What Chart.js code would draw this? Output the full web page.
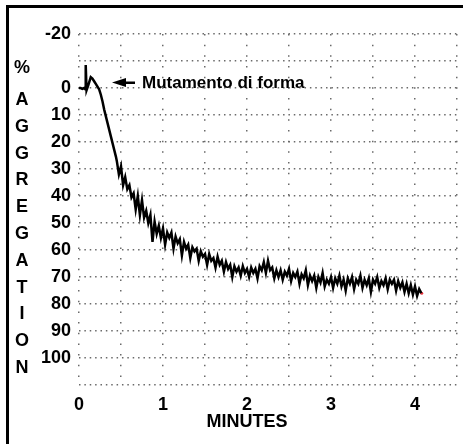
<!doctype html>
<html>

<head>
    <title>Aggregation</title>
    <script src="https://cdn.jsdelivr.net/npm/chart.js"></script>
    <style>
        body {
            margin: 0;
            padding: 0;
            background-color: #ffffff;
        }

        #wrap {
            position: relative;
            width: 466px;
            height: 444px;
        }
    </style>
</head>

<body>
    <div id="wrap"><canvas id="aggregazione" width="466" height="444"></canvas></div>

    <script>
        // tempo in minuti e % di aggregazione (asse invertito)
        var minuti = [
            0, 0.02, 0.04, 0.06, 0.075, 0.08, 0.09, 0.11, 0.14, 0.16, 0.18, 0.2, 0.22, 0.24, 0.26, 0.28,
            0.3, 0.32, 0.34, 0.36, 0.38, 0.4, 0.42, 0.44,
            0.45, 0.475, 0.5, 0.525, 0.55, 0.575, 0.6, 0.625, 0.65, 0.675, 0.7, 0.725, 0.75, 0.775,
            0.8, 0.825, 0.85, 0.875, 0.9, 0.925, 0.95, 0.975, 1, 1.025, 1.05, 1.075, 1.1, 1.125,
            1.15, 1.175, 1.2, 1.225, 1.25, 1.275, 1.3, 1.325, 1.35, 1.375, 1.4, 1.425, 1.45, 1.475,
            1.5, 1.525, 1.55, 1.575, 1.6, 1.625, 1.65, 1.675, 1.7, 1.725, 1.75, 1.775, 1.8, 1.825,
            1.85, 1.875, 1.9, 1.925, 1.95, 1.975, 2, 2.025, 2.05, 2.075, 2.1, 2.125, 2.15, 2.175,
            2.2, 2.225, 2.25, 2.275, 2.3, 2.325, 2.35, 2.375, 2.4, 2.425, 2.45, 2.475, 2.5, 2.525,
            2.55, 2.575, 2.6, 2.625, 2.65, 2.675, 2.7, 2.725, 2.75, 2.775, 2.8, 2.825, 2.85, 2.875,
            2.9, 2.925, 2.95, 2.975, 3, 3.025, 3.05, 3.075, 3.1, 3.125, 3.15, 3.175, 3.2, 3.225,
            3.25, 3.275, 3.3, 3.325, 3.35, 3.375, 3.4, 3.425, 3.45, 3.475, 3.5, 3.525, 3.55, 3.575,
            3.6, 3.625, 3.65, 3.675, 3.7, 3.725, 3.75, 3.775, 3.8, 3.825, 3.85, 3.875, 3.9, 3.925,
            3.95, 3.975, 4, 4.025, 4.05, 4.075
        ];
        var aggregazione = [
            0, 0, 0.3, 0, 0.5, -8.5, 0.8, -1, -4, -3.5, -2.5, -1.5, -0.5, 0.5, 2.5, 5,
            8, 10.5, 13, 15.5, 18, 20.5, 23, 25.5,
            27, 32, 29, 36, 33, 37.5, 36, 40.5, 39, 45, 40, 47, 41.5, 48,
            45.5, 50, 47, 57, 49.5, 54, 51, 55.5, 52, 58, 53.5, 55.5, 53.5, 59.5,
            55, 57.5, 56, 62, 57, 59.5, 58, 63, 59, 60.5, 59.5, 64, 60.5, 62.5,
            61.5, 65.5, 61.5, 64, 63, 66.5, 62.5, 65.5, 64, 68, 64.5, 67, 65.5, 70,
            66, 68, 66.5, 69.5, 66, 68.5, 67, 70, 66.5, 68.5, 67, 70.5, 66, 67.5,
            64.5, 68.5, 64, 67.5, 66.5, 70.5, 67.5, 70, 67.5, 71, 68, 69.5, 67, 71.5,
            68.5, 70, 68, 72.5, 69, 70.5, 67.5, 73, 69.5, 71.5, 69.5, 74, 70, 72,
            68.5, 73.5, 71, 72.5, 70, 74, 70.5, 72.5, 69.5, 73.5, 71, 75, 70.5, 72.5,
            70, 74.5, 71, 72.5, 69.5, 74, 71, 73, 70.5, 75.5, 71, 72.5, 70, 74,
            71.5, 73, 70.5, 74.5, 71, 72.5, 71, 75, 71.5, 74, 72, 75.5, 72.5, 76,
            73, 76.5, 73.5, 77, 74.5, 76
        ];
        var fineMinuti = [4.08];
        var fineAggregazione = [76];

        var tickY = [-20, 0, 10, 20, 30, 40, 50, 60, 70, 80, 90, 100];
        var tickX = [0, 1, 2, 3, 4];
        var etichettaY = ['%', 'A', 'G', 'G', 'R', 'E', 'G', 'A', 'T', 'I', 'O', 'N'];

        var fontBold = 'bold 18px "Liberation Sans", Arial, sans-serif';

        var testi = {
            id: 'testi',
            afterDraw(chart) {
                var ctx = chart.ctx;
                var sx = chart.scales.x;
                ctx.save();
                // cornice
                ctx.fillStyle = '#000';
                ctx.fillRect(6, 5, 3, 439);
                ctx.fillRect(6, 5, 457, 3);

                // % AGGREGATION in verticale
                ctx.font = fontBold;
                ctx.textAlign = 'center';
                ctx.textBaseline = 'middle';
                etichettaY.forEach((c, i) => {
                    var y = i === 0 ? 68 : 100 + (i - 1) * 26.8;
                    ctx.fillText(c, 22, y);
                });

                // titolo asse x
                ctx.fillText('MINUTES', sx.getPixelForValue(2), 422);

                // freccia e nota
                ctx.beginPath();
                ctx.moveTo(112, 82.5);
                ctx.lineTo(126, 78);
                ctx.lineTo(126, 87);
                ctx.closePath();
                ctx.fill();
                ctx.fillRect(124, 81.5, 11, 2.5);
                ctx.font = 'bold 17px "Liberation Sans", Arial, sans-serif';
                ctx.textAlign = 'left';
                ctx.textBaseline = 'alphabetic';
                ctx.fillText('Mutamento di forma', 142, 87.5);
                ctx.restore();
            }
        };

        var grafico = new Chart(document.getElementById('aggregazione').getContext('2d'), {
            type: 'line',
            data: {
                datasets: [{
                    label: 'Aggregazione',
                    data: minuti.map((m, i) => ({ x: m, y: aggregazione[i] })),
                    borderColor: '#000',
                    borderWidth: 2.5,
                    pointRadius: 0,
                    tension: 0,
                    fill: false
                }, {
                    label: 'Fine',
                    data: fineMinuti.map((m, i) => ({ x: m, y: fineAggregazione[i] })),
                    borderColor: '#e8323c',
                    backgroundColor: '#e8323c',
                    pointRadius: 1.5,
                    pointBorderWidth: 0,
                    showLine: false
                }]
            },
            options: {
                responsive: false,
                animation: false,
                layout: { padding: { left: 0, top: 34, right: 8, bottom: 0 } },
                plugins: {
                    legend: { display: false },
                    tooltip: { enabled: false }
                },
                scales: {
                    x: {
                        type: 'linear',
                        min: 0,
                        max: 4.5,
                        afterFit: (s) => { s.height = 59; },
                        border: { display: false, dash: [1.5, 9.17] },
                        grid: { color: '#6a6a6a', lineWidth: 1.5, drawTicks: false },
                        ticks: {
                            stepSize: 0.5,
                            autoSkip: false,
                            maxRotation: 0,
                            padding: 9,
                            color: '#000',
                            font: { family: '"Liberation Sans", Arial, sans-serif', size: 18, weight: 'bold' },
                            callback: (v) => tickX.includes(v) ? v : ''
                        }
                    },
                    y: {
                        type: 'linear',
                        reverse: true,
                        min: -20,
                        max: 110,
                        afterFit: (s) => { s.width = 79; },
                        border: { display: false, dash: [1.5, 3.87] },
                        grid: { color: '#6a6a6a', lineWidth: 1.5, drawTicks: false },
                        ticks: {
                            stepSize: 10,
                            autoSkip: false,
                            padding: 8,
                            color: '#000',
                            font: { family: '"Liberation Sans", Arial, sans-serif', size: 18, weight: 'bold' },
                            callback: (v) => tickY.includes(v) ? v : ''
                        }
                    }
                }
            },
            plugins: [testi]
        });
    </script>
</body>

</html>
